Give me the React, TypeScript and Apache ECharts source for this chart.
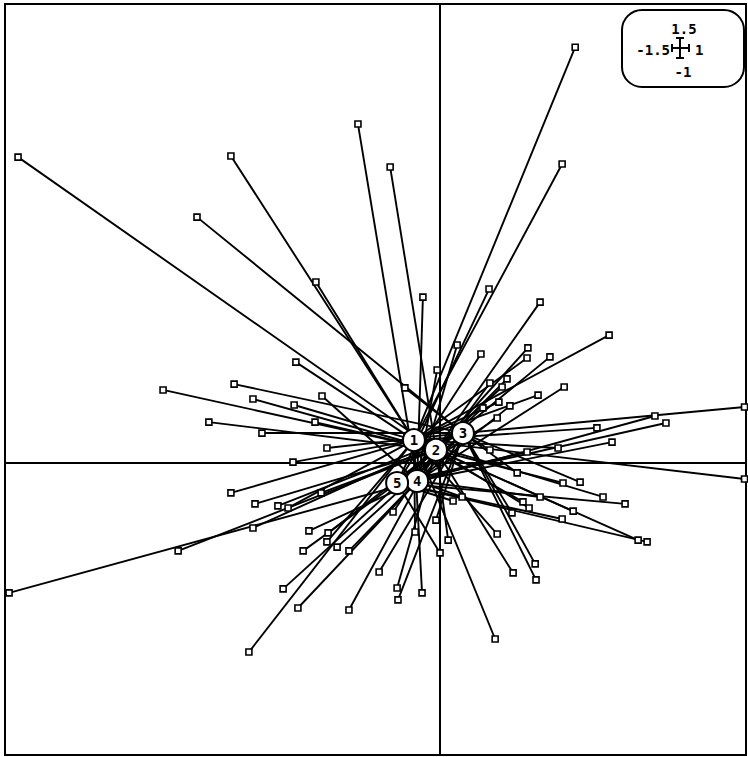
import React, { useEffect, useRef } from "react";
import * as echarts from "echarts";

// Class centres (gravity centres), labels 1..5
const centreLabels = ["1", "2", "3", "4", "5"];
const centreX = [-0.09, -0.014, 0.079, -0.079, -0.148];
const centreY = [0.079, 0.045, 0.103, -0.062, -0.069];

// Individual points: coordinates and class (1..5)
const pointX = [
  -1.455, -0.721, -0.838, -0.283, -0.428, -0.497, -0.172, 0.466, 0.421, 0.169,
  -0.059, 0.345, 0.583, 0.059, 0.141, 0.303, 0.3, 0.379, 0.428, 0.338,
  0.231, 0.214, 0.172, 0.203, 0.241, 0.197, 0.148, -0.01, -0.121, 1.05,
  0.741, 0.779, 0.541, 0.593, 0.407, 0.3, 0.172, 1.05, 0.266, 0.424,
  0.483, 0.562, 0.638, 0.345, 0.286, 0.307, 0.248, 0.459, 0.421, 0.683,
  0.714, 0.197, 0.328, 0.252, 0.331, 0.19, 0.045, 0.076, 0.028, 0.0,
  -0.014, -0.955, -0.71, -0.645, -0.503, -0.407, -0.797, -0.614, -0.431, -0.39,
  -0.507, -0.721, -0.638, -0.559, -0.524, -0.41, -0.645, -0.903, -1.486, -0.452,
  -0.386, -0.39, -0.472, -0.355, -0.314, -0.541, -0.49, -0.314, -0.659, -0.21,
  -0.162, -0.086, -0.148, -0.145, -0.062,
];
const pointY = [
  1.055, 1.059, 0.848, 1.169, 0.624, 0.348, 1.021, 1.434, 1.031, 0.6,
  0.572, 0.555, 0.441, 0.407, 0.376, 0.397, 0.362, 0.366, 0.262, 0.234,
  0.29, 0.262, 0.276, 0.21, 0.197, 0.155, 0.19, 0.321, 0.259, 0.193,
  0.162, 0.138, 0.121, 0.072, 0.052, 0.038, 0.045, -0.055, -0.034, -0.069,
  -0.066, -0.117, -0.141, -0.117, -0.134, -0.155, -0.172, -0.166, -0.193, -0.266,
  -0.272, -0.245, -0.348, -0.379, -0.403, -0.607, -0.131, -0.117, -0.266, -0.31,
  -0.197, 0.252, 0.272, 0.221, 0.2, 0.231, 0.141, 0.103, 0.141, 0.052,
  0.003, -0.103, -0.141, -0.148, -0.155, -0.103, -0.224, -0.303, -0.448, -0.234,
  -0.241, -0.272, -0.303, -0.29, -0.303, -0.434, -0.5, -0.507, -0.652, -0.376,
  -0.169, -0.238, -0.431, -0.472, -0.448,
];
const pointClass = [
  2, 1, 3, 4, 1, 1, 2, 1, 1, 5,
  4, 2, 1, 4, 5, 2, 1, 5, 4, 1,
  2, 5, 4, 1, 4, 5, 2, 4, 3, 3,
  4, 5, 1, 4, 1, 5, 3, 1, 3, 2,
  3, 1, 5, 4, 1, 2, 3, 2, 5, 1,
  5, 1, 3, 2, 3, 1, 5, 4, 2, 5,
  3, 2, 3, 2, 1, 4, 2, 3, 2, 3,
  1, 1, 2, 3, 1, 2, 3, 2, 4, 4,
  2, 1, 5, 3, 4, 2, 3, 2, 1, 3,
  2, 1, 2, 3, 1,
];

// Scale legend (axis extents)
const scaleTop = "1.5";
const scaleLeft = "-1.5";
const scaleRight = "1";
const scaleBottom = "-1";

export default function App() {
  const ref = useRef<HTMLDivElement>(null);

  useEffect(() => {
    if (!ref.current) return;
    const chart = echarts.init(ref.current, null, { renderer: "svg" });

    const segs = pointX.map((x, i) => {
      const c = pointClass[i] - 1;
      return { coords: [[x, pointY[i]], [centreX[c], centreY[c]]] };
    });
    const pts = pointX.map((x, i) => [x, pointY[i]]);
    const ctr = centreX.map((x, i) => ({ value: [x, centreY[i]], name: centreLabels[i] }));

    const font = "DejaVu Sans Mono";
    const tf = `bold 14px ${font}`;

    chart.setOption({
      animation: false,
      backgroundColor: "#ffffff",
      grid: {
        left: 5,
        top: 4,
        width: 741,
        height: 751,
        show: true,
        borderColor: "#000",
        borderWidth: 2,
        backgroundColor: "#fff",
      },
      xAxis: {
        type: "value",
        min: -1.5,
        max: 1.055,
        axisLine: { show: true, onZero: true, lineStyle: { color: "#000", width: 2 } },
        axisTick: { show: false },
        axisLabel: { show: false },
        splitLine: { show: false },
      },
      yAxis: {
        type: "value",
        min: -1.007,
        max: 1.583,
        axisLine: { show: true, onZero: true, lineStyle: { color: "#000", width: 2 } },
        axisTick: { show: false },
        axisLabel: { show: false },
        splitLine: { show: false },
      },
      series: [
        {
          type: "lines",
          coordinateSystem: "cartesian2d",
          data: segs,
          lineStyle: { color: "#000", width: 1.9, opacity: 1 },
          silent: true,
          z: 2,
        },
        {
          type: "scatter",
          data: pts,
          symbol: "rect",
          symbolSize: 6,
          itemStyle: { color: "#fff", borderColor: "#000", borderWidth: 1.6, opacity: 1 },
          z: 3,
        },
        {
          type: "scatter",
          data: ctr,
          symbol: "circle",
          symbolSize: 22,
          itemStyle: { color: "#fff", borderColor: "#000", borderWidth: 2, opacity: 1 },
          label: {
            show: true,
            position: "inside",
            formatter: "{b}",
            color: "#000",
            fontFamily: font,
            fontWeight: "bold",
            fontSize: 14,
          },
          z: 4,
        },
      ],
      graphic: [
        {
          type: "rect",
          shape: { x: 622, y: 10, width: 122, height: 77, r: 20 },
          style: { fill: "#fff", stroke: "#000", lineWidth: 2 },
          z: 10,
        },
        {
          type: "text",
          style: { text: scaleTop, x: 684, y: 29, align: "center", verticalAlign: "middle", font: tf, fill: "#000" },
          z: 11,
        },
        {
          type: "text",
          style: { text: scaleLeft, x: 670, y: 50, align: "right", verticalAlign: "middle", font: tf, fill: "#000" },
          z: 11,
        },
        {
          type: "text",
          style: { text: scaleRight, x: 695, y: 50, align: "left", verticalAlign: "middle", font: tf, fill: "#000" },
          z: 11,
        },
        {
          type: "text",
          style: { text: scaleBottom, x: 683, y: 72, align: "center", verticalAlign: "middle", font: tf, fill: "#000" },
          z: 11,
        },
        { type: "line", shape: { x1: 672, y1: 48, x2: 689, y2: 48 }, style: { stroke: "#000", lineWidth: 2 }, z: 11 },
        { type: "line", shape: { x1: 680, y1: 38, x2: 680, y2: 58 }, style: { stroke: "#000", lineWidth: 2 }, z: 11 },
        { type: "line", shape: { x1: 672, y1: 44, x2: 672, y2: 52 }, style: { stroke: "#000", lineWidth: 2 }, z: 11 },
        { type: "line", shape: { x1: 689, y1: 44, x2: 689, y2: 52 }, style: { stroke: "#000", lineWidth: 2 }, z: 11 },
        { type: "line", shape: { x1: 676, y1: 38, x2: 684, y2: 38 }, style: { stroke: "#000", lineWidth: 2 }, z: 11 },
        { type: "line", shape: { x1: 676, y1: 58, x2: 684, y2: 58 }, style: { stroke: "#000", lineWidth: 2 }, z: 11 },
      ],
    });

    return () => chart.dispose();
  }, []);

  return (
    <div
      ref={ref}
      style={{ position: "absolute", left: 0, top: 0, width: 748, height: 757, background: "#fff" }}
    />
  );
}
